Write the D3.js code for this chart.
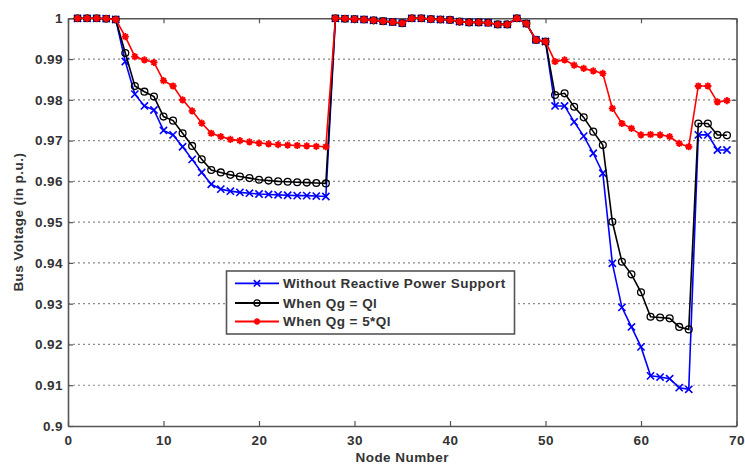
<!DOCTYPE html>
<html><head><meta charset="utf-8">
<script src="https://cdn.jsdelivr.net/npm/d3@7"></script>
<style>
html,body{margin:0;padding:0;background:#fff;}
svg{display:block;font-family:"Liberation Sans",Arial,sans-serif;}
</style></head>
<body>
<svg id="chart" width="745" height="464"></svg>
<script>
const nodes = [1,2,3,4,5,6,7,8,9,10,11,12,13,14,15,16,17,18,19,20,21,22,23,24,25,26,27,28,29,30,31,32,33,34,35,36,37,38,39,40,41,42,43,44,45,46,47,48,49,50,51,52,53,54,55,56,57,58,59,60,61,62,63,64,65,66,67,68,69];

const withoutSupport = [1,1,1,0.9999,0.9997,
  0.9894,0.9814,0.9785,0.9775,0.9725,0.9714,0.9685,0.9654,0.9622,0.9593,0.9581,0.9576,0.9573,0.9571,0.9569,0.9568,0.9567,0.9566,0.9565,0.9565,0.9564,0.9563,
  1,0.9999,0.9998,0.9997,0.9995,0.9993,0.9991,0.9988,
  1,1,0.9998,0.9997,0.9996,0.9992,0.999,0.999,0.9989,0.9985,0.9985,
  1,0.9987,0.9947,0.9943,
  0.9785,0.9785,0.9746,0.9711,0.9669,0.962,0.9399,0.9291,0.9243,0.9194,0.9123,0.912,0.9116,0.9094,0.909,0.9714,0.9714,0.9677,0.9677];

const qgEqualsQl = [1,1,1,0.9999,0.9997,
  0.9915,0.9834,0.982,0.9808,0.9759,0.9749,0.9718,0.9687,0.9654,0.9628,0.9622,0.9616,0.9612,0.9608,0.9604,0.9602,0.96,0.9599,0.9598,0.9597,0.9596,0.9595,
  1,0.9999,0.9998,0.9997,0.9995,0.9993,0.9991,0.9988,
  1,1,0.9998,0.9997,0.9996,0.9992,0.999,0.999,0.9989,0.9985,0.9985,
  1,0.9987,0.9947,0.9943,
  0.9812,0.9816,0.9783,0.9757,0.9722,0.9689,0.9501,0.9403,0.9372,0.9328,0.9268,0.9266,0.9264,0.9243,0.9237,0.9742,0.9742,0.9714,0.9713];

const qgEquals5Ql = [1,1,1,0.9999,0.9997,
  0.9955,0.9906,0.9898,0.9892,0.9847,0.9834,0.98,0.9773,0.9743,0.9718,0.971,0.9703,0.97,0.9697,0.9694,0.9692,0.969,0.9689,0.9688,0.9687,0.9686,0.9685,
  1,0.9999,0.9998,0.9997,0.9995,0.9993,0.9991,0.9988,
  1,1,0.9998,0.9997,0.9996,0.9992,0.999,0.999,0.9989,0.9985,0.9985,
  1,0.9987,0.9947,0.9943,
  0.9894,0.9898,0.9885,0.9877,0.9871,0.9865,0.9779,0.9742,0.973,0.9714,0.9715,0.9714,0.971,0.9693,0.9685,0.9834,0.9834,0.9795,0.9798];

const seriesNames = ["Without Reactive Power Support","When Qg = Ql","When Qg = 5*Ql"];
const xTicks = [0,10,20,30,40,50,60,70];
const yTicks = [0.9,0.91,0.92,0.93,0.94,0.95,0.96,0.97,0.98,0.99,1];
const yTickLabels = ["0.9","0.91","0.92","0.93","0.94","0.95","0.96","0.97","0.98","0.99","1"];

const svg = d3.select("#chart");
const L = 68, R = 736.5, T = 18.3, B = 426;
const x = d3.scaleLinear().domain([0,70]).range([L,R]);
const y = d3.scaleLinear().domain([0.9,1]).range([B,T]);
const axisColor = "#555";
const textColor = "#333";
const fontSize = 13.5, spacing = "0.45px";

// grid
svg.append("g").selectAll("line").data(yTicks.slice(1,-1)).join("line")
  .attr("x1",L).attr("x2",R).attr("y1",d=>y(d)).attr("y2",d=>y(d))
  .attr("stroke","#8a8a8a").attr("stroke-width",1.2).attr("stroke-dasharray","2,3");

// axes
const fmt = d => yTickLabels[yTicks.indexOf(d)];
const gB = svg.append("g").attr("transform",`translate(0,${B})`)
  .call(d3.axisBottom(x).tickValues(xTicks).tickSizeInner(-5).tickSizeOuter(0).tickPadding(9));
const gT = svg.append("g").attr("transform",`translate(0,${T})`)
  .call(d3.axisTop(x).tickValues(xTicks).tickSizeInner(-5).tickSizeOuter(0).tickFormat(""));
const gL = svg.append("g").attr("transform",`translate(${L},0)`)
  .call(d3.axisLeft(y).tickValues(yTicks).tickFormat(fmt).tickSizeInner(-5).tickSizeOuter(0).tickPadding(5));
const gR = svg.append("g").attr("transform",`translate(${R},0)`)
  .call(d3.axisRight(y).tickValues(yTicks).tickSizeInner(-5).tickSizeOuter(0).tickFormat(""));
[gB,gT,gL,gR].forEach(g=>{
  g.select(".domain").attr("stroke",axisColor).attr("stroke-width",1.6);
  g.selectAll(".tick line").attr("stroke",axisColor).attr("stroke-width",1.2);
  g.selectAll(".tick text").attr("fill",textColor).attr("font-size",fontSize).attr("font-weight","bold")
    .attr("letter-spacing",spacing)
    .attr("font-family","'Liberation Sans',Arial,sans-serif");
});

// series
const styles = [
  {data: withoutSupport, color:"#0000ff", marker:"x"},
  {data: qgEqualsQl, color:"#000000", marker:"o"},
  {data: qgEquals5Ql, color:"#ff0000", marker:"*"}
];
function drawMarker(g, type, color, cx, cy, s){
  if(type==="x"){
    g.append("path").attr("d",`M${cx-s},${cy-s}L${cx+s},${cy+s}M${cx-s},${cy+s}L${cx+s},${cy-s}`)
      .attr("stroke",color).attr("stroke-width",1.6).attr("fill","none");
  } else if(type==="o"){
    g.append("circle").attr("cx",cx).attr("cy",cy).attr("r",s*0.95)
      .attr("stroke",color).attr("stroke-width",1.3).attr("fill","none");
  } else {
    const d = `M${cx-s},${cy}L${cx+s},${cy}M${cx},${cy-s}L${cx},${cy+s}`+
      `M${cx-s*0.7},${cy-s*0.7}L${cx+s*0.7},${cy+s*0.7}M${cx-s*0.7},${cy+s*0.7}L${cx+s*0.7},${cy-s*0.7}`;
    g.append("path").attr("d",d).attr("stroke",color).attr("stroke-width",1.8).attr("fill","none");
    g.append("circle").attr("cx",cx).attr("cy",cy).attr("r",s*0.45).attr("fill",color);
  }
}
const line = d3.line().x((d,i)=>x(nodes[i])).y(d=>y(d));
styles.forEach(st=>{
  const g = svg.append("g");
  g.append("path").datum(st.data).attr("d",line).attr("fill","none")
    .attr("stroke",st.color).attr("stroke-width",1.6);
  st.data.forEach((v,i)=>drawMarker(g, st.marker, st.color, x(nodes[i]), y(v), 3.6));
});

// legend
const lg = svg.append("g");
lg.append("rect").attr("x",226.5).attr("y",271).attr("width",288).attr("height",63)
  .attr("fill","#fff").attr("stroke","#555").attr("stroke-width",1.6);
const rowsY = [283.3,303,321.5];
styles.forEach((st,i)=>{
  lg.append("line").attr("x1",235).attr("x2",279).attr("y1",rowsY[i]).attr("y2",rowsY[i])
    .attr("stroke",st.color).attr("stroke-width",1.8);
  drawMarker(lg, st.marker, st.color, 257, rowsY[i], 3.2);
  lg.append("text").attr("x",283).attr("y",rowsY[i]).attr("dy","0.35em")
    .attr("font-size",fontSize).attr("font-weight","bold").attr("fill",textColor)
    .attr("letter-spacing",spacing)
    .text(seriesNames[i]);
});

// axis titles
svg.append("text").attr("x",(L+R)/2).attr("y",457).attr("dy","0.35em").attr("text-anchor","middle")
  .attr("font-size",fontSize).attr("font-weight","bold").attr("fill",textColor)
  .attr("letter-spacing",spacing).text("Node Number");
svg.append("text").attr("transform",`translate(18,${(T+B)/2}) rotate(-90)`).attr("dy","0.35em")
  .attr("text-anchor","middle").attr("font-size",fontSize).attr("font-weight","bold").attr("fill",textColor)
  .attr("letter-spacing",spacing)
  .text("Bus Voltage (in p.u.)");
</script>
</body></html>
